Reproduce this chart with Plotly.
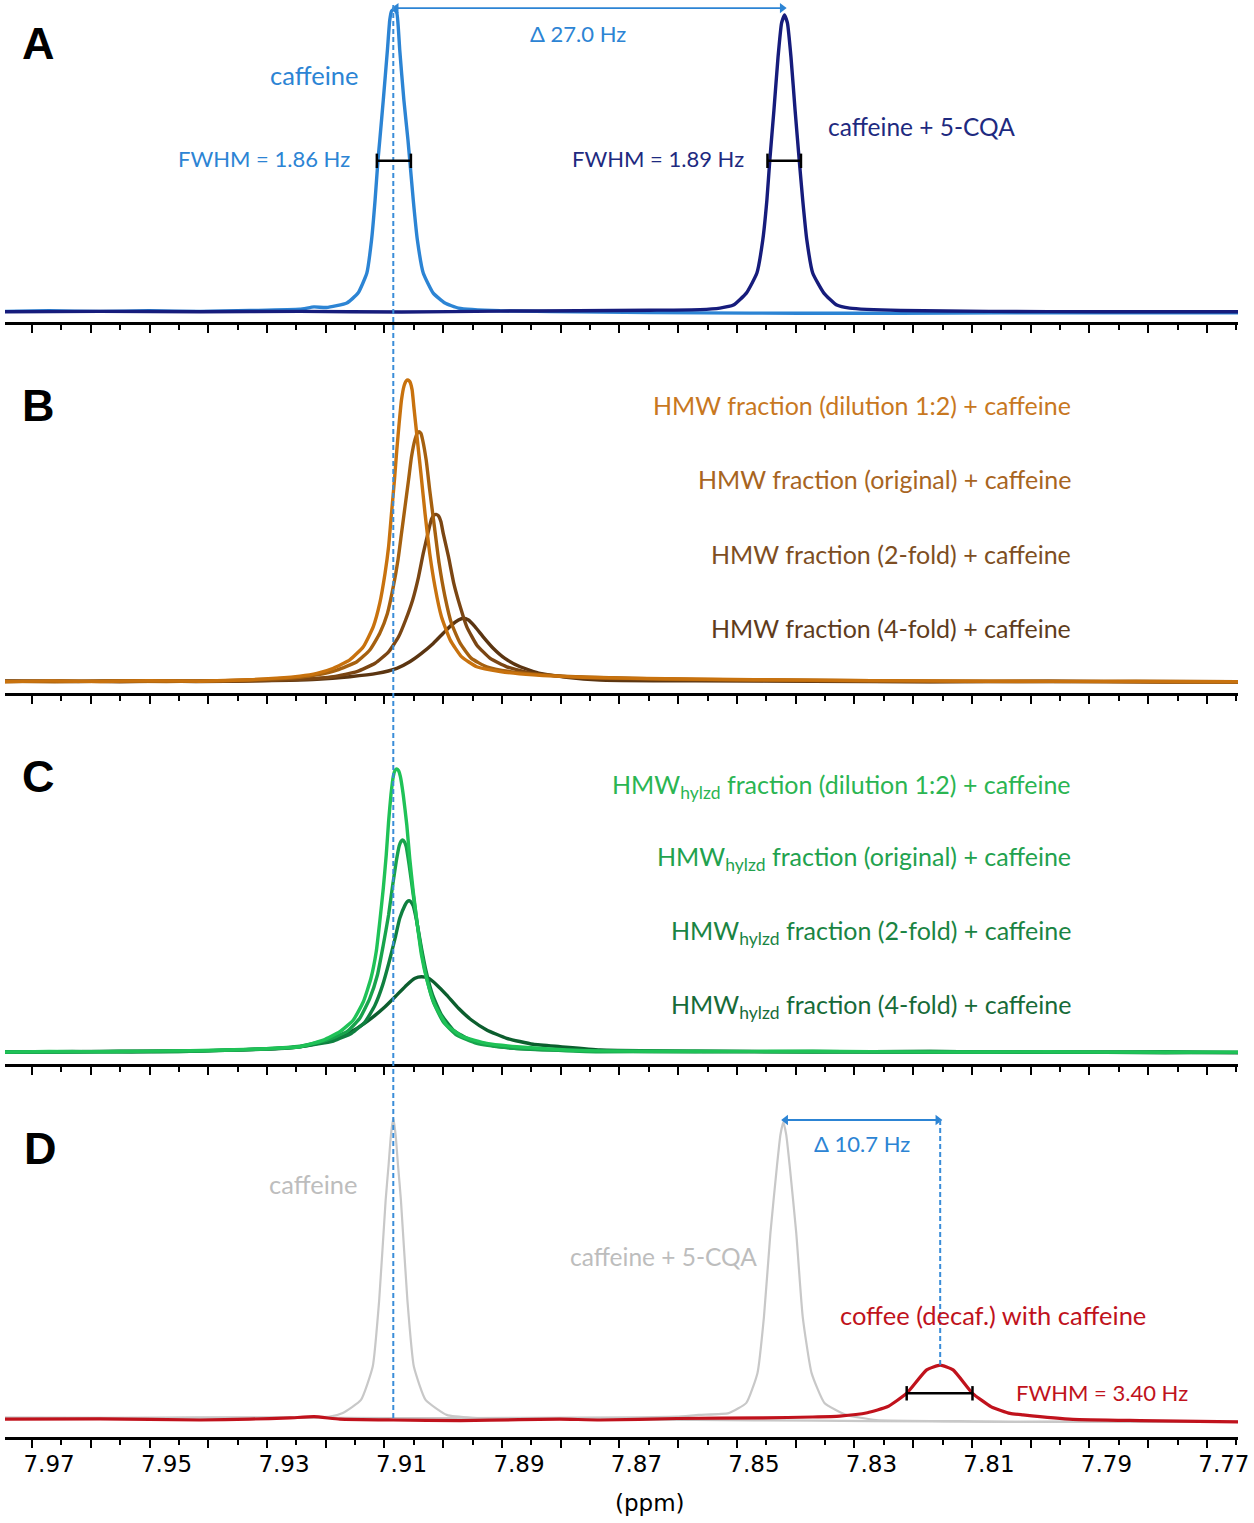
import plotly.graph_objects as go

W, H = 1254, 1523


def px(x, y):
    return x / W, 1 - y / H


# ---------------- data (chemical shift in ppm, relative intensity) ----------------
caffeine_A = [(7.9775, 0.2), (7.9700, 0.4), (7.9613, 0.2), (7.9530, 0.4), (7.9443, 0.2), (7.9358, 0.5),
              (7.9273, 0.9), (7.9249, 1.7), (7.9228, 1.5), (7.9193, 3.0), (7.9174, 6.3), (7.9159, 13.0),
              (7.9151, 24.0), (7.9145, 37.3), (7.9140, 50.7), (7.9137, 57.3), (7.9131, 70.7), (7.9124, 87.3),
              (7.9120, 97.3), (7.9117, 100.3), (7.9113, 100.9), (7.9108, 99.7), (7.9103, 87.3), (7.9096, 70.7),
              (7.9089, 57.3), (7.9086, 50.7), (7.9080, 37.3), (7.9073, 24.0), (7.9063, 13.0), (7.9046, 6.3),
              (7.9026, 3.0), (7.9003, 1.3), (7.8932, 0.4), (7.8762, 0.0), (7.8592, -0.3), (7.8422, -0.4),
              (7.8252, -0.4), (7.8081, -0.3), (7.7911, -0.3), (7.7676, -0.3)]
caffeine_cqa_A = [(7.9775, 0.1), (7.9613, 0.2), (7.9443, 0.1), (7.9273, 0.2), (7.9100, 0.0), (7.8932, 0.3),
                  (7.8800, 0.4), (7.8677, 0.6), (7.8592, 0.8), (7.8558, 1.3), (7.8535, 2.3), (7.8513, 6.3),
                  (7.8495, 13.0), (7.8485, 24.0), (7.8478, 37.3), (7.8473, 50.7), (7.8466, 67.3), (7.8459, 85.0),
                  (7.8453, 96.3), (7.8448, 99.0), (7.8443, 96.3), (7.8437, 85.0), (7.8430, 67.3), (7.8423, 50.7),
                  (7.8417, 37.3), (7.8410, 24.0), (7.8400, 13.0), (7.8381, 6.3), (7.8359, 2.3), (7.8337, 1.3),
                  (7.8250, 0.5), (7.8100, 0.2), (7.7900, 0.1), (7.7676, 0.1)]

hmw_dil = [(7.9775, -0.6), (7.9700, -0.3), (7.9613, -0.5), (7.9530, -0.2), (7.9443, -0.4), (7.9358, 0.1),
           (7.9273, 1.3), (7.9244, 2.2), (7.9216, 3.9), (7.9188, 6.7), (7.9165, 11.1), (7.9148, 17.8),
           (7.9137, 25.6), (7.9128, 35.6), (7.9122, 44.4), (7.9117, 55.6), (7.9112, 66.7), (7.9108, 76.7),
           (7.9104, 85.6), (7.9100, 93.4), (7.9096, 97.8), (7.9092, 99.7), (7.9089, 100.0), (7.9086, 99.5),
           (7.9082, 96.8), (7.9079, 91.1),
           (7.9073, 80.0), (7.9067, 68.9), (7.9060, 55.6), (7.9052, 42.2), (7.9043, 31.1), (7.9032, 21.1),
           (7.9017, 13.3), (7.8998, 7.8), (7.8972, 4.4), (7.8932, 2.8), (7.8876, 1.7), (7.8791, 0.9),
           (7.8650, 0.4), (7.8500, 0.1), (7.8300, -0.2), (7.8100, -0.4), (7.7900, -0.5), (7.7676, -0.6)]
hmw_orig = [(7.9775, -0.4), (7.9690, -0.6), (7.9600, -0.3), (7.9500, -0.5), (7.9400, -0.2), (7.9330, 0.2),
            (7.9273, 0.9), (7.9244, 1.7), (7.9210, 3.3), (7.9176, 6.1), (7.9154, 10.0), (7.9137, 15.6),
            (7.9124, 22.2), (7.9114, 31.1), (7.9106, 40.0), (7.9100, 48.9), (7.9094, 57.8), (7.9088, 66.7),
            (7.9083, 74.4), (7.9077, 80.2), (7.9073, 82.3), (7.9070, 82.8), (7.9067, 82.2), (7.9064, 80.0),
            (7.9058, 73.3), (7.9052, 63.3),
            (7.9044, 51.1), (7.9036, 38.9), (7.9026, 27.8), (7.9015, 18.9), (7.9000, 12.2), (7.8981, 7.2),
            (7.8955, 4.4), (7.8915, 2.8), (7.8859, 1.7), (7.8779, 0.9), (7.8650, 0.3), (7.8450, 0.0),
            (7.8250, -0.3), (7.8050, -0.5), (7.7850, -0.4), (7.7676, -0.6)]
hmw_2fold = [(7.9775, -0.5), (7.9680, -0.3), (7.9580, -0.6), (7.9480, -0.3), (7.9380, -0.4), (7.9320, -0.1),
             (7.9273, 0.2), (7.9216, 1.1), (7.9176, 2.8), (7.9145, 5.6), (7.9122, 9.4), (7.9105, 14.4),
             (7.9093, 20.0), (7.9081, 26.7), (7.9071, 34.4), (7.9063, 42.2), (7.9055, 48.9), (7.9049, 53.6),
             (7.9045, 54.9), (7.9041, 55.2), (7.9037, 54.7), (7.9033, 52.8), (7.9029, 48.9), (7.9020, 41.1),
             (7.9011, 32.2), (7.9000, 24.4),
             (7.8989, 17.8), (7.8972, 11.7), (7.8949, 7.2), (7.8921, 4.4), (7.8876, 2.2), (7.8819, 1.1),
             (7.8762, 0.6), (7.8600, 0.1), (7.8400, -0.3), (7.8200, -0.5), (7.8000, -0.4), (7.7800, -0.7),
             (7.7676, -0.6)]
hmw_4fold = [(7.9775, -0.3), (7.9650, -0.5), (7.9550, -0.2), (7.9450, -0.5), (7.9350, -0.3), (7.9290, -0.1),
             (7.9244, 0.2), (7.9188, 1.1), (7.9142, 2.2), (7.9108, 3.9), (7.9086, 6.1), (7.9066, 8.9),
             (7.9046, 12.2), (7.9029, 15.6), (7.9015, 18.3), (7.9003, 20.0), (7.8995, 20.6), (7.8986, 20.0),
             (7.8975, 17.8), (7.8961, 14.4), (7.8944, 10.6), (7.8924, 7.2), (7.8898, 4.4), (7.8864, 2.2),
             (7.8819, 0.9), (7.8762, 0.0), (7.8600, -0.3), (7.8400, -0.4), (7.8200, -0.6), (7.8000, -0.5),
             (7.7800, -0.6), (7.7676, -0.7)]

hyd_dil = [(7.9775, -0.7), (7.9700, -0.5), (7.9600, -0.6), (7.9500, -0.3), (7.9420, -0.1), (7.9350, 0.3),
           (7.9273, 1.1), (7.9233, 3.3), (7.9205, 6.1), (7.9182, 10.0), (7.9165, 16.1), (7.9152, 23.9),
           (7.9143, 32.8), (7.9137, 42.8), (7.9131, 53.9), (7.9126, 65.0), (7.9122, 76.1), (7.9118, 85.0),
           (7.9114, 91.2), (7.9111, 93.2), (7.9108, 93.7), (7.9105, 93.1), (7.9102, 91.2), (7.9097, 85.0),
           (7.9091, 75.0), (7.9086, 63.9),
           (7.9080, 52.8), (7.9073, 41.7), (7.9066, 31.7), (7.9056, 22.8), (7.9043, 15.0), (7.9023, 8.3),
           (7.8995, 4.4), (7.8955, 2.2), (7.8904, 1.1), (7.8819, 0.0), (7.8762, -0.3), (7.8600, -0.5),
           (7.8400, -0.4), (7.8200, -0.7), (7.8000, -0.6), (7.7800, -0.8), (7.7676, -0.7)]
hyd_orig = [(7.9775, -0.6), (7.9680, -0.7), (7.9580, -0.4), (7.9480, -0.5), (7.9400, -0.1), (7.9330, 0.4),
            (7.9273, 1.3), (7.9227, 3.3), (7.9193, 6.1), (7.9171, 10.6), (7.9154, 17.2), (7.9141, 25.0),
            (7.9131, 35.0), (7.9122, 45.0), (7.9115, 55.0), (7.9109, 62.8), (7.9104, 68.0), (7.9101, 69.5),
            (7.9098, 70.0), (7.9095, 69.4), (7.9092, 67.8), (7.9087, 61.7), (7.9080, 51.7), (7.9073, 41.7),
            (7.9066, 32.8), (7.9057, 23.9),
            (7.9046, 16.1), (7.9029, 9.4), (7.9006, 5.0), (7.8972, 2.2), (7.8921, 0.8), (7.8847, 0.0),
            (7.8762, -0.6), (7.8600, -0.4), (7.8400, -0.7), (7.8200, -0.5), (7.8000, -0.8), (7.7800, -0.6),
            (7.7676, -0.8)]
hyd_2fold = [(7.9775, -0.8), (7.9660, -0.5), (7.9560, -0.7), (7.9460, -0.4), (7.9380, 0.0), (7.9320, 0.4),
             (7.9273, 1.1), (7.9216, 3.0), (7.9185, 5.6), (7.9162, 9.4), (7.9145, 15.0), (7.9132, 21.7),
             (7.9121, 29.4), (7.9111, 37.2), (7.9103, 43.9), (7.9094, 48.3), (7.9090, 49.5), (7.9087, 49.8),
             (7.9084, 49.4), (7.9080, 48.0),
             (7.9074, 42.8), (7.9067, 35.0), (7.9058, 26.1), (7.9047, 18.3), (7.9032, 11.7), (7.9012, 6.7),
             (7.8983, 3.3), (7.8944, 1.4), (7.8887, 0.3), (7.8762, -0.3), (7.8600, -0.6), (7.8400, -0.5),
             (7.8200, -0.8), (7.8000, -0.6), (7.7800, -0.9), (7.7676, -0.8)]
hyd_4fold = [(7.9775, -0.7), (7.9650, -0.6), (7.9550, -0.4), (7.9450, -0.3), (7.9370, 0.1), (7.9310, 0.5),
             (7.9273, 1.1), (7.9239, 2.4), (7.9205, 4.4), (7.9176, 7.2), (7.9151, 10.6), (7.9128, 14.4),
             (7.9108, 18.3), (7.9091, 21.7), (7.9077, 23.9), (7.9066, 24.4), (7.9054, 23.9), (7.9040, 21.7),
             (7.9023, 18.3), (7.9003, 13.9), (7.8981, 10.0), (7.8955, 6.7), (7.8921, 3.9), (7.8876, 1.9),
             (7.8830, 1.1), (7.8762, 0.0), (7.8600, -0.4), (7.8400, -0.6), (7.8200, -0.5), (7.8000, -0.8),
             (7.7800, -0.7), (7.7676, -0.9)]

caffeine_D = [(7.9775, 0.8), (7.9600, 0.7), (7.9450, 0.9), (7.9300, 0.9), (7.9222, 1.1), (7.9200, 2.3),
              (7.9169, 6.7), (7.9149, 17.8), (7.9138, 40.0), (7.9127, 73.3), (7.9122, 85.0), (7.9118, 95.0),
              (7.9114, 100.6), (7.9110, 95.0), (7.9106, 85.0), (7.9101, 73.3), (7.9090, 40.0), (7.9079, 17.8),
              (7.9059, 6.7), (7.9023, 1.7), (7.8978, 0.7), (7.8800, 0.3), (7.8600, 0.0), (7.8400, -0.2),
              (7.8200, -0.5), (7.8000, -0.6), (7.7800, -0.6), (7.7676, -0.6)]
caffeine_cqa_D = [(7.9775, 0.7), (7.9500, 0.6), (7.9300, 0.8), (7.9100, 0.6), (7.8900, 0.7), (7.8700, 0.9),
                  (7.8631, 1.1), (7.8594, 1.7), (7.8543, 2.3), (7.8513, 5.7), (7.8494, 15.7), (7.8483, 34.4),
                  (7.8472, 62.3), (7.8461, 84.4), (7.8455, 95.0), (7.8450, 99.4), (7.8445, 95.0), (7.8439, 84.4),
                  (7.8428, 62.3), (7.8417, 34.4), (7.8402, 15.7), (7.8380, 5.7), (7.8343, 1.7), (7.8292, 0.0),
                  (7.8150, -0.4), (7.8064, -0.6), (7.7900, -0.5), (7.7676, -0.6)]
coffee_D = [(7.9775, 0.3), (7.9613, 0.4), (7.9443, 0.0), (7.9358, 0.3), (7.9290, 0.7), (7.9249, 1.1),
            (7.9205, 0.3), (7.9114, 0.0), (7.9000, -0.2), (7.8900, 0.1), (7.8831, 0.3), (7.8762, 0.0),
            (7.8631, 0.5), (7.8484, 0.7), (7.8400, 1.0), (7.8354, 1.3), (7.8307, 2.4), (7.8273, 4.4),
            (7.8240, 8.9), (7.8206, 16.7), (7.8183, 18.3), (7.8161, 16.7), (7.8128, 8.9), (7.8096, 4.4),
            (7.8064, 2.2), (7.8042, 1.7), (7.7957, 0.2), (7.7843, -0.2), (7.7676, -0.6)]

# peak positions / measured values used for annotations
caffeine_peak = 7.9114
cqa_peak = 7.8448
cqa_peak_D = 7.8450
coffee_peak = 7.8183
arrow_A_level = 101.3
arrow_D_level = 100.0
fwhm_A_caf = (7.9142, 7.9084, 50.4)
fwhm_A_cqa = (7.8477, 7.8420, 50.4)
fwhm_D_cof = (7.8240, 7.8128, 8.9)

tick_label_vals = [7.97, 7.95, 7.93, 7.91, 7.89, 7.87, 7.85, 7.83, 7.81, 7.79, 7.77]
tick_labels = ["7.97", "7.95", "7.93", "7.91", "7.89", "7.87", "7.85", "7.83", "7.81", "7.79", "7.77"]
major_ticks = [round(7.9729 - 0.01 * k, 4) for k in range(21)]
minor_ticks = [round(7.9679 - 0.01 * k, 4) for k in range(21)]

B_labels = ["HMW fraction (dilution 1:2) + caffeine", "HMW fraction (original) + caffeine",
            "HMW fraction (2-fold) + caffeine", "HMW fraction (4-fold) + caffeine"]
C_labels = ["HMW<sub>hylzd</sub> fraction (dilution 1:2) + caffeine", "HMW<sub>hylzd</sub> fraction (original) + caffeine",
            "HMW<sub>hylzd</sub> fraction (2-fold) + caffeine", "HMW<sub>hylzd</sub> fraction (4-fold) + caffeine"]

# ---------------- styles ----------------
BLUE = "#2C84D4"
DASH_BLUE = "#3A8DD8"
NAVY = "#161C7C"
NAVY_T = "#1E2A80"
B_COL = ["#C8720E", "#A5600F", "#7B4613", "#5B3511"]
B_TXT = ["#C8781F", "#A8651F", "#7E4E22", "#5F3C1C"]
C_COL = ["#1FC257", "#17A34C", "#0F8040", "#0C5E2E"]
C_TXT = ["#2BB552", "#22A24E", "#1A8443", "#176B38"]
GRAY = "#C8C8C8"
GRAY_T = "#BDBDBD"
RED = "#C0121C"
TXT_FONT = "Lato"

XR = [7.9775, 7.7676]

fig = go.Figure()


def add(pts, color, width, xa, ya):
    xs, ys = zip(*pts)
    fig.add_trace(go.Scatter(x=list(xs), y=list(ys), mode="lines",
                             line=dict(color=color, width=width, shape="spline", smoothing=0.45),
                             xaxis=xa, yaxis=ya, hoverinfo="skip", showlegend=False))


add(caffeine_A, BLUE, 3.4, "x", "y")
add(caffeine_cqa_A, NAVY, 3.4, "x", "y")
for pts, c in zip([hmw_4fold, hmw_2fold, hmw_orig, hmw_dil], B_COL[::-1]):
    add(pts, c, 3.4, "x2", "y2")
for pts, c in zip([hyd_4fold, hyd_2fold, hyd_orig, hyd_dil], C_COL[::-1]):
    add(pts, c, 3.4, "x3", "y3")
add(caffeine_D, GRAY, 2.2, "x4", "y4")
add(caffeine_cqa_D, GRAY, 2.2, "x4", "y4")
add(coffee_D, RED, 3.2, "x4", "y4")


def arrow(x0, x1, yv, xa, ya):
    # x0 is the left (higher ppm) end on the reversed axis
    fig.add_trace(go.Scatter(x=[x0, x1], y=[yv, yv], mode="lines+markers", xaxis=xa, yaxis=ya,
                             line=dict(color=BLUE, width=1.8),
                             marker=dict(symbol=["triangle-left", "triangle-right"], size=9, color=BLUE),
                             hoverinfo="skip", showlegend=False, cliponaxis=False))


arrow(caffeine_peak - 0.0005, cqa_peak + 0.0004, arrow_A_level, "x", "y")
arrow(cqa_peak_D - 0.0004, coffee_peak + 0.0004, arrow_D_level, "x4", "y4")

# dummy trace to carry the tick-label axis
fig.add_trace(go.Scatter(x=XR, y=[None, None], mode="lines", xaxis="x5", yaxis="y4",
                         hoverinfo="skip", showlegend=False))

xdom = [5 / W, 1238 / W]


def xaxis(anchor):
    return dict(domain=xdom, range=XR, anchor=anchor, showline=True, linecolor="black", linewidth=2.5,
                ticks="outside", tickmode="array", tickvals=major_ticks, ticklen=8, tickwidth=2,
                tickcolor="black", showticklabels=False, showgrid=False, zeroline=False, automargin=False,
                minor=dict(tickmode="array", tickvals=minor_ticks, ticks="outside", ticklen=5,
                           tickwidth=2, tickcolor="black", showgrid=False))


def yaxis(top_px, axis_px, base_px):
    return dict(domain=[1 - axis_px / H, 1 - top_px / H],
                range=[-(axis_px - base_px) / 3.0, (base_px - top_px) / 3.0],
                visible=False, showgrid=False, zeroline=False, automargin=False)


fig.update_layout(
    width=W, height=H, autosize=False, margin=dict(l=0, r=0, t=0, b=0, pad=0, autoexpand=False),
    paper_bgcolor="white", plot_bgcolor="rgba(0,0,0,0)", showlegend=False,
    xaxis=xaxis("y"), xaxis2=xaxis("y2"), xaxis3=xaxis("y3"), xaxis4=xaxis("y4"),
    yaxis=yaxis(0, 322, 312), yaxis2=yaxis(335, 693, 680),
    yaxis3=yaxis(705, 1064, 1050), yaxis4=yaxis(1075, 1437, 1420),
    xaxis5=dict(domain=xdom, range=XR, anchor="y4", overlaying="x4", showline=False, automargin=False,
                ticks="outside", ticklen=6, tickcolor="rgba(0,0,0,0)", tickmode="array",
                tickvals=tick_label_vals, ticktext=tick_labels, showgrid=False, zeroline=False,
                tickfont=dict(family="DejaVu Sans", size=23, color="black")),
)

shapes = []
# dashed reference line through caffeine peak
shapes.append(dict(type="line", xref="x", yref="paper", x0=caffeine_peak, x1=caffeine_peak,
                   y0=1 - 1418 / H, y1=1 - 5 / H, line=dict(color=DASH_BLUE, width=2, dash="5px,3px"),
                   layer="above"))
shapes.append(dict(type="line", xref="x4", yref="y4", x0=coffee_peak, x1=coffee_peak,
                   y0=18.3, y1=arrow_D_level, line=dict(color=DASH_BLUE, width=2, dash="5px,3px"),
                   layer="above"))


def fwhm_bar(spec, xr, yr):
    x0, x1, yv = spec
    out = [dict(type="line", xref=xr, yref=yr, x0=x0, x1=x1, y0=yv, y1=yv,
                line=dict(color="black", width=2.5), layer="above")]
    for xv in (x0, x1):
        out.append(dict(type="line", xref=xr, yref=yr, x0=xv, x1=xv, y0=yv - 2.4, y1=yv + 2.4,
                        line=dict(color="black", width=2.5), layer="above"))
    return out


shapes += fwhm_bar(fwhm_A_caf, "x", "y")
shapes += fwhm_bar(fwhm_A_cqa, "x", "y")
shapes += fwhm_bar(fwhm_D_cof, "x4", "y4")

ann = []


def text(s, x, y, color, size, xanchor="center", family=TXT_FONT):
    ax, ay = px(x, y)
    ann.append(dict(text=s, x=ax, y=ay, xref="paper", yref="paper", xanchor=xanchor, yanchor="middle",
                    showarrow=False, font=dict(family=family, size=size, color=color)))


for letter, (lx, ly) in zip("ABCD", [(38, 43), (38, 405), (38, 777), (40, 1148)]):
    text("<b>%s</b>" % letter, lx, ly, "black", 45, family="Liberation Sans")

text("caffeine", 314, 75, BLUE, 25.5)
text("FWHM = 1.86 Hz", 352, 158, BLUE, 22, xanchor="right")
text("Δ 27.0 Hz", 578, 33, BLUE, 22)
text("caffeine + 5-CQA", 921, 127, NAVY_T, 24.5)
text("FWHM = 1.89 Hz", 746, 158, NAVY_T, 22, xanchor="right")
for s, c, yy in zip(B_labels, B_TXT, [405, 479, 554, 628]):
    text(s, 1073, yy, c, 25, xanchor="right")
for s, c, yy in zip(C_labels, C_TXT, [786, 858, 932, 1006]):
    text(s, 1073, yy, c, 25, xanchor="right")
text("caffeine", 313, 1184, GRAY_T, 25.5)
text("caffeine + 5-CQA", 663, 1256, GRAY_T, 24.5)
text("Δ 10.7 Hz", 862, 1143, BLUE, 22)
text("coffee (decaf.) with caffeine", 993, 1315, RED, 25.5)
text("FWHM = 3.40 Hz", 1102, 1392, RED, 22)
text("(ppm)", 650, 1503, "black", 23, family="DejaVu Sans")

fig.update_layout(shapes=shapes, annotations=ann)
fig.write_html(
    "out.html",
    config={"responsive": False, "displayModeBar": False},
    post_script=("document.documentElement.style.overflow='hidden';"
                 "document.body.style.overflow='hidden';document.body.style.margin='0';"),
)
